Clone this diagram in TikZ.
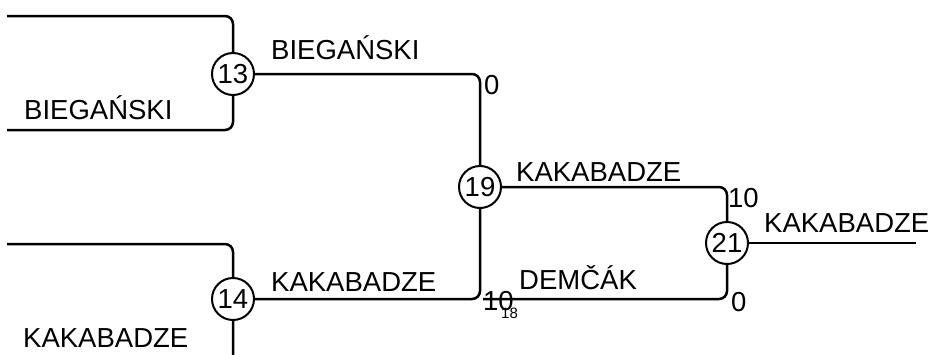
\documentclass[tikz,border=0pt]{standalone}
\usepackage{fontspec}
\setmainfont{Liberation Sans}
\begin{document}
\begin{tikzpicture}[x=1pt,y=-1pt,
  conn/.style={line width=2.5pt,rounded corners=8pt},
  seed/.style={draw,circle,line width=2pt,inner sep=0pt,minimum size=42pt,font=\fontsize{27.5}{30}\selectfont},
  lab/.style={anchor=base west,inner sep=0pt,font=\fontsize{27.5}{30}\selectfont},
  small/.style={anchor=base west,inner sep=0pt,font=\fontsize{15}{17}\selectfont}]
\useasboundingbox (0,0) rectangle (937,354);
\clip (0,0) rectangle (937,354);
\node[seed] (c13) at (233,74) {13};
\node[seed] (c14) at (233,299) {14};
\node[seed] (c19) at (480,187) {19};
\node[seed] (c21) at (727,243) {21};
\coordinate (a13) at (7,16);
\coordinate (b13) at (7,130);
\coordinate (a14) at (7,244);
\coordinate (b14) at (7,372);
\coordinate (d21) at (483,299);
\coordinate (w) at (916,243);
\draw[conn] (a13) -| (c13);
\draw[conn] (b13) -| (c13);
\draw[conn] (a14) -| (c14);
\draw[conn] (b14) -| (c14);
\draw[conn] (c13) -| (c19);
\draw[conn] (c14) -| (c19);
\draw[conn] (c19) -| (c21);
\draw[conn] (d21) -| (c21);
\draw[conn] (c21) -- (w);
\node[lab] (t1) at (271,59) {BIEGAŃSKI};
\node[lab] (t2) at (24,119) {BIEGAŃSKI};
\node[lab] (t3) at (271,291) {KAKABADZE};
\node[lab] (t4) at (23,347) {KAKABADZE};
\node[lab] (t5) at (516,181) {KAKABADZE};
\node[lab] (t6) at (519,289) {DEMČÁK};
\node[lab] (t7) at (764,232) {KAKABADZE};
\node[lab] (s1) at (484,94) {0};
\node[lab] (s2) at (728,207) {10};
\node[lab] (s3) at (731,311) {0};
\node[lab] (s4) at (483,310) {10};
\node[small] (s5) at (501,318) {18};
\end{tikzpicture}
\end{document}
